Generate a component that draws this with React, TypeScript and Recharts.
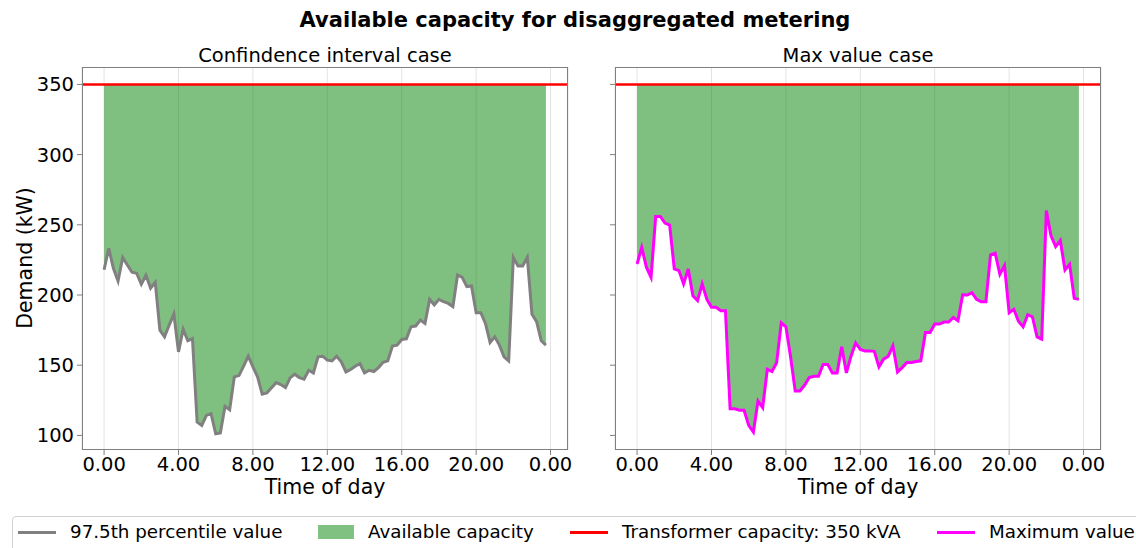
import React from "react";
import {
  ComposedChart,
  Area,
  Line,
  XAxis,
  YAxis,
  CartesianGrid,
  ReferenceLine,
} from "recharts";

// 15-minute demand profiles (kW), 00:00 .. 23:45
const percentile975 = [
  218, 233.3, 219, 210, 226.7, 221.4, 216.2, 215.5, 207.6, 214, 204.8, 209,
  175, 170.2, 178.6, 186.4, 159.5, 175.7, 167.4, 169, 109.5, 107.1, 114.3, 115.5,
  101.2, 101.7, 120.7, 118.3, 141.7, 142.6, 149.3, 156.4, 148.8, 141.7, 129.3, 130.2,
  134, 137.6, 136.2, 134, 141, 143.6, 141.2, 140, 146.4, 144.5, 156, 156.4,
  153.6, 153, 156.4, 152.4, 145.2, 146.9, 149.3, 151.2, 144.5, 146.4, 145.5, 148.3,
  152.1, 153.1, 163.6, 164.3, 168.3, 168.8, 177.4, 177.9, 182.1, 179.8, 196.9, 192.9,
  196.9, 195.2, 194, 191.7, 214.3, 212.6, 206, 206.4, 187.4, 187.4, 179.8, 166.2,
  170.2, 164.3, 156, 153.1, 226.7, 220.7, 220.7, 226.9, 186.2, 181, 167.4, 164.3,
];

const maximumValue = [
  222.1, 233.8, 219.8, 212.6, 256, 256, 251.2, 249.8, 218.6, 217.4, 207.9, 218.6,
  199.5, 196, 207.9, 196.9, 191.2, 191.2, 188.8, 188.8, 119, 119, 117.9, 117.9,
  107.1, 102.4, 124.5, 119.8, 147.1, 145.5, 151.7, 180.2, 177.4, 156, 131.7, 131.7,
  135.7, 141.2, 142.1, 142.1, 150.5, 150.5, 144.5, 144.5, 163.1, 144.5, 156.4, 165.9,
  161.2, 160.2, 160.2, 159.9, 148.8, 154.3, 156.4, 163.8, 145.2, 148.3, 151.9, 151.9,
  152.6, 153.1, 173.3, 173.3, 179.3, 179.3, 180.7, 180.7, 184, 181.7, 200.2, 200,
  201.7, 196.9, 195.2, 195.2, 228.6, 229.8, 214.8, 221, 187.4, 189.8, 181.4, 177.4,
  186, 184.5, 170.2, 168.6, 260.2, 242.1, 234.5, 238.8, 217.9, 221.9, 197.6, 196.9,
];

const CAPACITY = 350;
const hourTicks = [0, 4, 8, 12, 16, 20, 24];
const demandTicks = [100, 150, 200, 250, 300, 350];

const FONT = "'DejaVu Sans', sans-serif";
const SPINE = "#7f7f7f";

const toRows = (vals: number[]) => vals.map((v, i) => ({ t: i / 4, v }));

interface PanelProps {
  rows: { t: number; v: number }[];
  color: string;
  left: number;
  width: number;
  yAxisWidth: number;
  marginLeft: number;
  showYLabels: boolean;
}

const PLOT_TOP = 67;
const PLOT_H = 383;

function Panel({ rows, color, left, width, yAxisWidth, marginLeft, showYLabels }: PanelProps) {
  const marginRight = width - marginLeft - yAxisWidth - 486;
  const tickStyle = { fontSize: 19.5, fill: "#000", fontFamily: FONT };
  return (
    <div style={{ position: "absolute", left, top: 0 }}>
      <ComposedChart
        width={width}
        height={500}
        data={rows}
        margin={{ top: PLOT_TOP, right: marginRight, left: marginLeft, bottom: 0 }}
      >
        <CartesianGrid horizontal={false} stroke="#e3e3e3" strokeWidth={1} />
        <XAxis
          dataKey="t"
          type="number"
          domain={[-1.1875, 24.9375]}
          ticks={hourTicks}
          allowDataOverflow
          tickFormatter={(h: number) => (h % 24).toFixed(2)}
          tick={tickStyle}
          tickSize={5}
          tickMargin={2}
          axisLine={false}
          tickLine={{ stroke: SPINE }}
          height={50}
          interval={0}
        />
        <YAxis
          type="number"
          domain={[89.6, 362.4]}
          ticks={demandTicks}
          allowDataOverflow
          tick={tickStyle}
          tickFormatter={(v: number) => (showYLabels ? String(v) : "")}
          tickSize={5}
          tickMargin={3}
          axisLine={false}
          tickLine={{ stroke: SPINE }}
          width={yAxisWidth}
          interval={0}
        />
        <Area
          type="linear"
          dataKey={(d: { v: number }) => [d.v, CAPACITY]}
          fill="#008000"
          fillOpacity={0.5}
          stroke="none"
          isAnimationActive={false}
        />
        <Line
          type="linear"
          dataKey="v"
          stroke={color}
          strokeWidth={3}
          dot={false}
          isAnimationActive={false}
        />
        <ReferenceLine y={CAPACITY} stroke="#ff0000" strokeWidth={2.5} />
      </ComposedChart>
      <div
        style={{
          position: "absolute",
          left: marginLeft + yAxisWidth,
          top: PLOT_TOP,
          width: 486,
          height: PLOT_H,
          border: `1px solid ${SPINE}`,
          boxSizing: "border-box",
          pointerEvents: "none",
        }}
      />
    </div>
  );
}

const text = (extra: React.CSSProperties): React.CSSProperties => ({
  position: "absolute",
  fontFamily: FONT,
  color: "#000",
  whiteSpace: "nowrap",
  lineHeight: 1,
  ...extra,
});

function LegendItem({ swatch, label, x }: { swatch: React.ReactNode; label: string; x: number }) {
  return (
    <div style={text({ left: x, top: 523, display: "flex", alignItems: "center", fontSize: 18.3 })}>
      {swatch}
      <span style={{ marginLeft: 14 }}>{label}</span>
    </div>
  );
}

const lineSwatch = (c: string) => (
  <span style={{ display: "inline-block", width: 38, height: 3, background: c }} />
);

export default function App() {
  return (
    <div
      style={{
        position: "absolute",
        left: 0,
        top: 0,
        width: 1136,
        height: 548,
        background: "#fff",
        overflow: "hidden",
      }}
    >
      <div style={text({ left: 0, width: 1150, top: 10, textAlign: "center", fontSize: 21, fontWeight: "bold" })}>
        Available capacity for disaggregated metering
      </div>
      <div style={text({ left: 82, width: 486, top: 46, textAlign: "center", fontSize: 19.5 })}>
        Confindence interval case
      </div>
      <div style={text({ left: 615, width: 486, top: 46, textAlign: "center", fontSize: 19.5 })}>
        Max value case
      </div>

      <Panel rows={toRows(percentile975)} color="#808080" left={0} width={600} yAxisWidth={60} marginLeft={22} showYLabels />
      <Panel rows={toRows(maximumValue)} color="#ff00ff" left={560} width={576} yAxisWidth={55} marginLeft={0} showYLabels={false} />

      <div style={text({ left: 82, width: 486, top: 477, textAlign: "center", fontSize: 20.5 })}>Time of day</div>
      <div style={text({ left: 615, width: 486, top: 477, textAlign: "center", fontSize: 20.5 })}>Time of day</div>
      <div
        style={text({
          left: 25,
          top: 258,
          fontSize: 20.5,
          transform: "translate(-50%, -50%) rotate(-90deg)",
        })}
      >
        Demand (kW)
      </div>

      <div
        style={{
          position: "absolute",
          left: 12,
          top: 516,
          width: 1140,
          height: 50,
          border: "1px solid #d0d0d0",
          borderRadius: 4,
          boxSizing: "border-box",
        }}
      />
      <LegendItem x={18} swatch={lineSwatch("#808080")} label="97.5th percentile value" />
      <LegendItem
        x={318}
        swatch={<span style={{ display: "inline-block", width: 36, height: 14, background: "#80c080" }} />}
        label="Available capacity"
      />
      <LegendItem x={570} swatch={lineSwatch("#ff0000")} label="Transformer capacity: 350 kVA" />
      <LegendItem x={937} swatch={lineSwatch("#ff00ff")} label="Maximum value" />
    </div>
  );
}
